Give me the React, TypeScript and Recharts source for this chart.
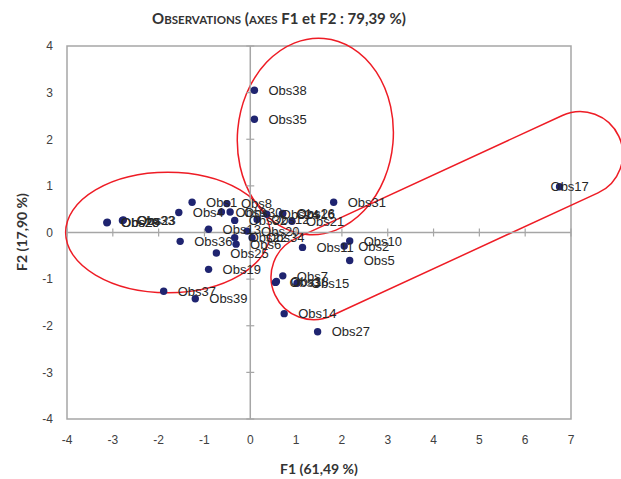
import React from "react";
import {
  ScatterChart,
  Scatter,
  XAxis,
  YAxis,
  ReferenceLine,
  ReferenceArea,
  LabelList,
} from "recharts";

// observations (F1, F2 coordinates)
const obsNames = [
  "Obs1", "Obs2", "Obs3", "Obs4", "Obs5", "Obs6", "Obs7", "Obs8", "Obs9", "Obs10",
  "Obs11", "Obs12", "Obs13", "Obs14", "Obs15", "Obs16", "Obs17", "Obs18", "Obs19", "Obs20",
  "Obs21", "Obs22", "Obs23", "Obs24", "Obs25", "Obs26", "Obs27", "Obs28", "Obs29", "Obs30",
  "Obs31", "Obs32", "Obs33", "Obs34", "Obs35", "Obs36", "Obs37", "Obs38", "Obs39",
];
const f1Values = [
  -1.27, 2.05, 0.55, -1.56, 2.17, -0.31, 0.71, -0.51, -0.63, 2.17,
  1.14, 0.15, -0.91, 0.74, 1.02, 0.7, 6.75, 0.57, -0.91, -0.07,
  0.91, -0.34, -2.77, 0.36, -0.74, 0.71, 1.47, -3.13, -3.12, -0.44,
  1.82, -0.34, -2.79, 0.04, 0.09, -1.53, -1.89, 0.09, -1.2,
];
const f2Values = [
  0.65, -0.29, -1.07, 0.43, -0.6, -0.25, -0.93, 0.62, 0.44, -0.18,
  -0.32, 0.28, 0.07, -1.74, -1.09, 0.4, 0.98, -1.05, -0.79, 0.03,
  0.24, -0.11, 0.27, 0.39, -0.44, 0.41, -2.13, 0.21, 0.22, 0.44,
  0.65, 0.26, 0.26, -0.11, 2.43, -0.19, -1.26, 3.05, -1.42,
];
const xTicks = [-4, -3, -2, -1, 0, 1, 2, 3, 4, 5, 6, 7];
const yTicks = [-4, -3, -2, -1, 0, 1, 2, 3, 4];

const points = obsNames.map((name, i) => ({ name, f1: f1Values[i], f2: f2Values[i] }));

const GRID = "#a6a6a6";
const DOT = "#1f2470";
const RED = "#ee1c25";
const TICK_X = 0.087;
const TICK_Y = 0.086;

const ellipseShape = (rot: number) => (p: any) => {
  const cx = p.x + p.width / 2;
  const cy = p.y + p.height / 2;
  return (
    <ellipse
      cx={cx}
      cy={cy}
      rx={Math.abs(p.width) / 2}
      ry={Math.abs(p.height) / 2}
      transform={`rotate(${rot} ${cx} ${cy})`}
      fill="none"
      stroke={RED}
      strokeWidth={1.5}
    />
  );
};

// rounded band from lower-left end (x1,y1) to upper-right end (x2,y2)
const capsuleShape = (radiusData: number, spanData: number) => (p: any) => {
  const ax = p.x;
  const ay = p.y + p.height;
  const bx = p.x + p.width;
  const by = p.y;
  const r = (radiusData * p.width) / spanData;
  const len = Math.hypot(bx - ax, by - ay);
  const dx = (bx - ax) / len;
  const dy = (by - ay) / len;
  const nx = -dy * r;
  const ny = dx * r;
  const d = `M${ax + nx},${ay + ny} L${bx + nx},${by + ny} A${r},${r} 0 0 0 ${bx - nx},${by - ny} L${ax - nx},${ay - ny} A${r},${r} 0 0 0 ${ax + nx},${ay + ny} Z`;
  return <path d={d} fill="none" stroke={RED} strokeWidth={1.5} />;
};

const renderObsLabel = (p: any) => {
  const vb = p.viewBox ?? p;
  const cx = vb.x + (vb.width || 0) / 2;
  const cy = vb.y + (vb.height || 0) / 2;
  let tx = cx + 14;
  if (tx + 38 > 600) tx = cx - 9;
  return (
    <text x={tx} y={cy} dy="0.36em" fontSize={13} fill="#262626" fontFamily="'Liberation Sans', Arial, sans-serif">
      {p.value}
    </text>
  );
};

export default function App() {
  const small = { fontSize: 11.5 };
  return (
    <div
      style={{
        position: "absolute",
        left: 0,
        top: 0,
        width: 621,
        height: 479,
        background: "#fff",
        fontFamily: "'Liberation Sans', Arial, sans-serif",
      }}
    >
      <ScatterChart width={621} height={479} margin={{ top: 46, right: 50, bottom: 20, left: 10 }}>
        <XAxis
          type="number"
          dataKey="f1"
          domain={[-4, 7]}
          ticks={xTicks}
          interval={0}
          allowDataOverflow
          axisLine={false}
          tickLine={false}
          tickSize={6}
          tickMargin={10}
          height={40}
          tick={{ fontSize: 12, fill: "#404040" }}
        />
        <YAxis
          type="number"
          dataKey="f2"
          domain={[-4, 4]}
          ticks={yTicks}
          interval={0}
          allowDataOverflow
          axisLine={false}
          tickLine={false}
          tickSize={6}
          tickMargin={8}
          width={57}
          tick={{ fontSize: 12, fill: "#404040" }}
        />
        <ReferenceArea x1={-4} x2={7} y1={-4} y2={4} fill="none" stroke={GRID} strokeWidth={1.5} ifOverflow="visible" />
        <ReferenceLine x={0} stroke={GRID} strokeWidth={1.5} />
        <ReferenceLine y={0} stroke={GRID} strokeWidth={1.5} />
        {xTicks.map((t) => (
          <ReferenceLine
            key={"xt" + t}
            segment={[{ x: t, y: -TICK_Y }, { x: t, y: TICK_Y }]}
            stroke={GRID}
            strokeWidth={1.2}
            ifOverflow="visible"
          />
        ))}
        {yTicks.map((t) => (
          <ReferenceLine
            key={"yt" + t}
            segment={[{ x: -TICK_X, y: t }, { x: TICK_X, y: t }]}
            stroke={GRID}
            strokeWidth={1.2}
            ifOverflow="visible"
          />
        ))}
        <Scatter
          data={points}
          isAnimationActive={false}
          shape={(p: any) => <circle cx={p.cx} cy={p.cy} r={3.7} fill={DOT} />}
        >
          <LabelList dataKey="name" content={renderObsLabel} />
        </Scatter>
        <ReferenceArea
          x1={-4.03}
          x2={0.43}
          y1={-1.29}
          y2={1.29}
          ifOverflow="visible"
          shape={ellipseShape(0)}
        />
        <ReferenceArea
          x1={-0.28}
          x2={3.12}
          y1={-0.05}
          y2={4.17}
          ifOverflow="visible"
          shape={ellipseShape(5)}
        />
        <ReferenceArea
          x1={1.384}
          x2={7.2}
          y1={-0.955}
          y2={1.68}
          ifOverflow="visible"
          shape={capsuleShape(0.93, 7.2 - 1.384)}
        />
      </ScatterChart>
      <div
        style={{
          position: "absolute",
          left: 279,
          top: 18,
          transform: "translate(-50%, -50%)",
          fontFamily: "Lato, 'Open Sans', sans-serif",
          fontWeight: 700,
          fontSize: 15,
          color: "#333",
          whiteSpace: "nowrap",
        }}
      >
        O<span style={small}>BSERVATIONS</span> (<span style={small}>AXES</span> F1 et F2 : 79,39 %)
      </div>
      <div
        style={{
          position: "absolute",
          left: 319,
          top: 468,
          transform: "translate(-50%, -50%)",
          fontFamily: "Lato, 'Open Sans', sans-serif",
          fontWeight: 700,
          fontSize: 14,
          color: "#333",
          whiteSpace: "nowrap",
        }}
      >
        F1 (61,49 %)
      </div>
      <div
        style={{
          position: "absolute",
          left: 21,
          top: 232,
          transform: "translate(-50%, -50%) rotate(-90deg)",
          fontFamily: "Lato, 'Open Sans', sans-serif",
          fontWeight: 700,
          fontSize: 14,
          color: "#333",
          whiteSpace: "nowrap",
        }}
      >
        F2 (17,90 %)
      </div>
    </div>
  );
}
